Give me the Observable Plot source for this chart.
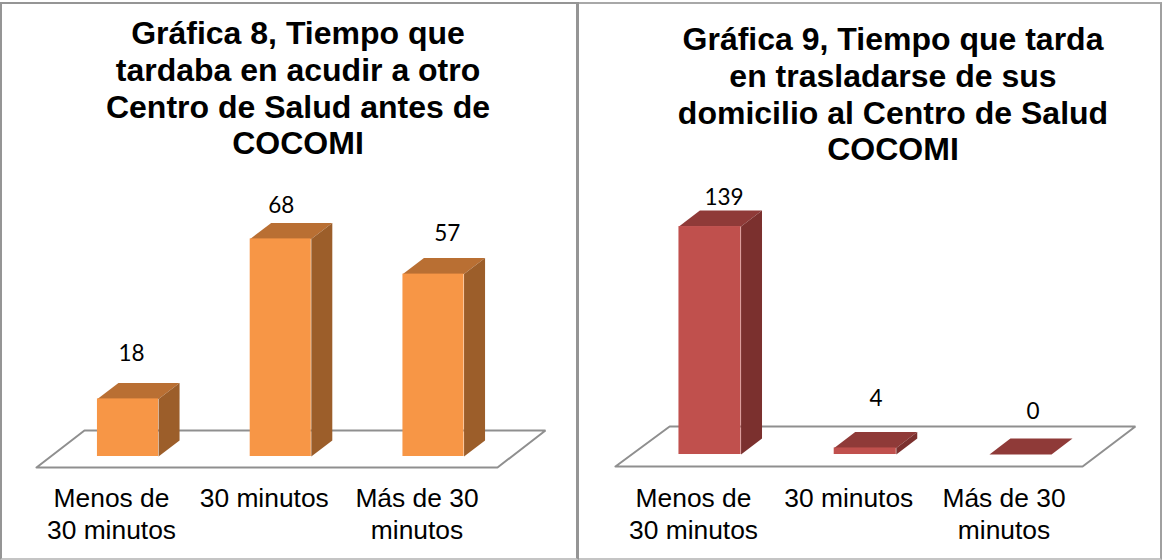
<!DOCTYPE html>
<html><head><meta charset="utf-8">
<script src="https://cdn.jsdelivr.net/npm/d3@7"></script>
<script src="https://cdn.jsdelivr.net/npm/@observablehq/plot@0.6"></script>
<style>
html,body{margin:0;padding:0;background:#fff;width:1162px;height:560px;overflow:hidden}
.panel{position:absolute;top:2px;height:558px;box-sizing:border-box}
.panel svg{position:absolute;left:0;background:transparent;overflow:visible;max-width:none}
.title{position:absolute;text-align:center;font:bold 32px/36.8px "Liberation Sans",Arial,sans-serif;color:#000;white-space:pre}
</style></head><body>
<div id="a" class="panel" style="left:0;width:579px;border:2px solid #959595;border-bottom-color:#c4c4c4;border-right-width:3px"></div>
<div id="b" class="panel" style="left:579px;width:583px;border-top:2px solid #a8a8a8;border-right:2px solid #a0a0a0;border-bottom:2px solid #c4c4c4"></div>
<script>
const categories = ["Menos de\n30 minutos", "30 minutos", "Más de 30\nminutos"];
const values8 = [18, 68, 57];
const values9 = [139, 4, 0];
const title8 = "Gráfica 8, Tiempo que\ntardaba en acudir a otro\nCentro de Salud antes de\nCOCOMI";
const title9 = "Gráfica 9, Tiempo que tarda\nen trasladarse de sus\ndomicilio al Centro de Salud\nCOCOMI";

function chart(el, cfg) {
  const {values, title, colors, xDomain, yDomain, depthX, depthY, barHalf, floor, labelAt} = cfg;
  const idx = values.map((_, i) => i);
  const faces = [];
  idx.forEach(i => {
    const v = values[i], l = i - barHalf, r = i + barHalf;
    [[l,v],[l+depthX,v+depthY],[r+depthX,v+depthY],[r,v],[l,v]].forEach(p => faces.push({id:"t"+i, x:p[0], y:p[1], c:colors.top}));
    if (v > 0) [[r,0],[r+depthX,depthY],[r+depthX,v+depthY],[r,v],[r,0]].forEach(p => faces.push({id:"s"+i, x:p[0], y:p[1], c:colors.side}));
  });
  const fronts = idx.filter(i => values[i] > 0).map(i => ({x1:i-barHalf, x2:i+barHalf, y:values[i]}));
  const floorPts = [...floor, floor[0]].map(p => ({x:p[0], y:p[1]}));
  const svg = Plot.plot({
    width: cfg.width, height: cfg.height,
    marginLeft: 0, marginRight: 0, marginTop: 0, marginBottom: cfg.marginBottom,
    style: {background: "transparent", overflow: "visible", maxWidth: "none"},
    x: {domain: xDomain},
    y: {domain: yDomain, axis: null},
    marks: [
      Plot.line(floorPts, {x:"x", y:"y", fill:"#fff", stroke:"#8f8f8f", strokeWidth:2, strokeLinejoin:"miter"}),
      Plot.line(faces, {x:"x", y:"y", z:"id", fill:"c", stroke:"none"}),
      Plot.rectY(fronts, {x1:"x1", x2:"x2", y1:0, y2:"y", fill:colors.front}),
      Plot.text(idx, {x:i=>labelAt[i][0], y:i=>labelAt[i][1], text:i=>String(values[i]), fill:"#000", fontSize:22.5, fontFamily:"Lato, Carlito, sans-serif", stroke:"none"}),
      Plot.axisX(idx, {anchor:"bottom", tickSize:0, tickPadding:cfg.tickPadding, dx:-16.5, tickFormat:i=>categories[i], fontSize:26.4, fontFamily:'"Liberation Sans", Arial, sans-serif', lineHeight:1.21, fill:"#000", label:null, textAnchor:"middle"})
    ]
  });
  svg.style.top = cfg.svgTop + "px";
  svg.style.left = cfg.svgLeft + "px";
  el.appendChild(svg);
  const t = document.createElement("div");
  t.className = "title"; t.textContent = title;
  t.style.left = cfg.titleLeft + "px"; t.style.top = cfg.titleTop + "px"; t.style.width = cfg.titleWidth + "px";
  el.appendChild(t);
}

chart(document.getElementById("a"), {
  values: values8, title: title8,
  colors: {front:"#F79646", top:"#B96F33", side:"#9C5E2A"},
  width:578, height:388, marginBottom:78, svgTop:164, svgLeft:-2,
  xDomain:[-0.8347, 2.9493], yDomain:[-6.875, 90],
  barHalf:0.2, depthX:0.1375, depthY:5,
  floor:[[-0.599,-3.44],[2.419,-3.44],[2.733,8.125],[-0.285,8.125]],
  labelAt:[[0.0229,32],[1.003,78.4],[2.09,69.5]],
  tickPadding:6,
  titleLeft:0, titleWidth:592, titleTop:11
});
chart(document.getElementById("b"), {
  values: values9, title: title9,
  colors: {front:"#C0504D", top:"#8F3A38", side:"#7B302E"},
  width:583, height:388, marginBottom:78, svgTop:164, svgLeft:-2,
  xDomain:[-0.8535, 2.9017], yDomain:[-14.63, 174.4],
  barHalf:0.2, depthX:0.135, depthY:9.75,
  floor:[[-0.609,-7.3],[2.4,-7.3],[2.74,17.07],[-0.26,17.07]],
  labelAt:[[0.09,156.7],[1.07,34.1],[2.08,26.2]],
  tickPadding:6,
  titleLeft:0, titleWidth:628, titleTop:17
});
</script></body></html>
